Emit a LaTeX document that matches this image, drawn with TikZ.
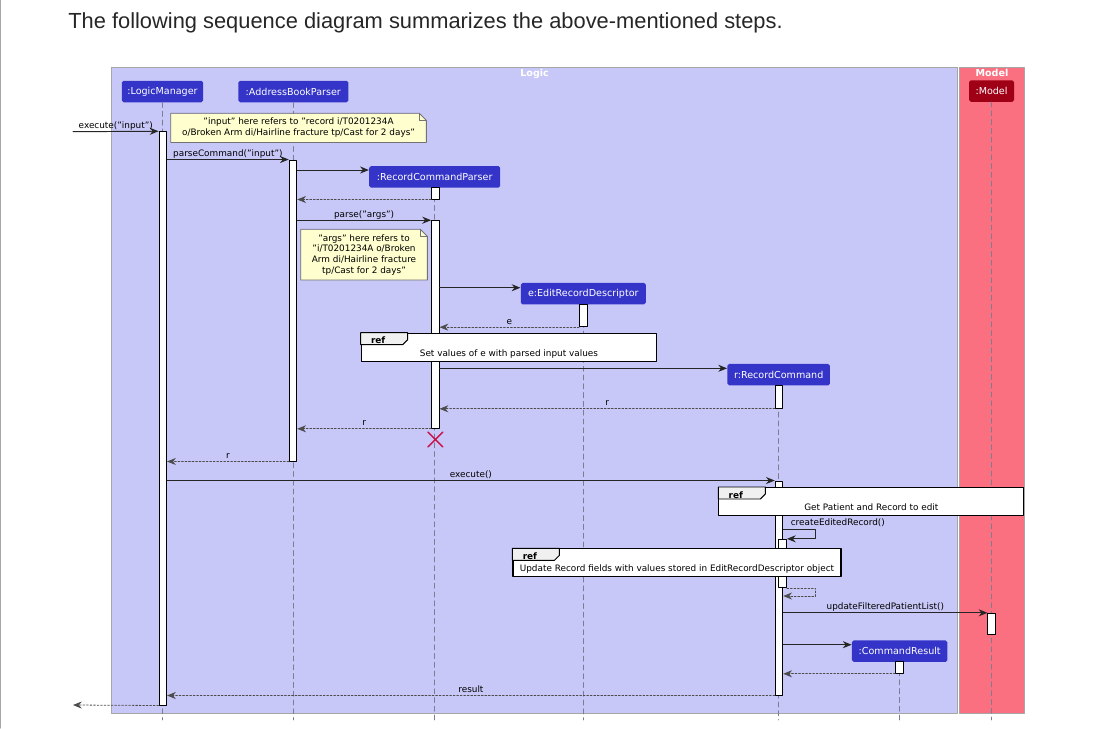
\documentclass[tikz,border=0pt]{standalone}
\usepackage{fontspec}
\setmainfont{DejaVu Sans}
\newfontfamily\titlefont{Liberation Sans}
\usetikzlibrary{arrows.meta, positioning, shapes.misc}
\definecolor{logic_bg}{RGB}{200,200,248}
\definecolor{model_bg}{RGB}{250,112,128}
\definecolor{part_blue}{RGB}{52,52,200}
\definecolor{model_red}{RGB}{160,0,22}
\definecolor{note_yellow}{RGB}{254,254,206}
\definecolor{life_gray}{RGB}{125,125,145}
\definecolor{destroy_red}{RGB}{200,16,72}
\newcommand\msgfont{\fontsize{5.05pt}{6.1pt}\selectfont}
\newcommand\partfont{\fontsize{5.45pt}{6.5pt}\selectfont}
\tikzset{
  grpbox/.style={draw=gray!70, line width=0.5pt, inner sep=0pt, minimum height=12.924cm},
  grplbl/.style={text=white, font=\partfont\bfseries, inner sep=0pt},
  part/.style={rectangle, rounded corners=1pt, fill=part_blue, text=white, font=\partfont, inner sep=0pt, minimum height=0.43cm},
  actbar/.style={rectangle, draw=black, fill=white, line width=0.55pt, inner sep=0pt, minimum width=0.15cm},
  life/.style={draw=life_gray, line width=0.5pt, dash pattern=on 2.8pt off 2.2pt},
  msg/.style={-{Stealth[length=5pt,width=4pt,inset=1.6pt]}, line width=0.55pt, draw=black!85},
  ret/.style={msg, dash pattern=on 1pt off 1pt, line width=0.45pt, draw=black!70},
  lbl/.style={midway, anchor=base, yshift=1.7pt, font=\msgfont, inner sep=0pt},
  notebox/.style={fill=note_yellow, inner sep=0pt, align=center, font=\msgfont},
  notedge/.style={draw=black!55, line width=0.45pt},
  refbox/.style={fill=white, draw=black, line width=0.65pt, inner sep=0pt},
  reftab/.style={fill=gray!12, draw=black, line width=0.55pt},
  reflbl/.style={font=\msgfont\bfseries, inner sep=0pt},
  reftxt/.style={font=\msgfont, inner sep=0pt},
  destroyx/.style={cross out, draw=destroy_red, line width=0.8pt, minimum size=0.27cm, inner sep=0pt}
}

\begin{document}
\begin{tikzpicture}[x=0.02cm, y=-0.02cm, line join=round, line cap=round]
	\useasboundingbox (0,0) rectangle (1095,728);
	\draw[black!35, line width=0.8pt] (0.6,0) -- (0.6,728);
	\node[anchor=base west, inner sep=0pt, text=black!85, font=\titlefont\fontsize{12.44pt}{14pt}\selectfont] (title) at (68,28) {The following sequence diagram summarizes the above-mentioned steps.};

	% boxes
	\node[grpbox, fill=logic_bg, minimum width=16.93cm, anchor=north west] (logic) at (111,66.5) {};
	\node[grpbox, fill=model_bg, minimum width=1.3cm, anchor=north west] (model) at (959,66.5) {};
	\node[grplbl, below=1.3pt of logic.north] (logiclbl) {Logic};
	\node[grplbl, below=1.3pt of model.north] (modellbl) {Model};

	% participants
	\node[part, minimum width=1.63cm] (lmbox) at (162.5,91.5) {:LogicManager};
	\node[part, minimum width=2.2cm] (abpbox) at (293.3,91.5) {:AddressBookParser};
	\node[part, minimum width=2.62cm] (rcpbox) at (434.7,176.9) {:RecordCommandParser};
	\node[part, minimum width=2.5cm] (erdbox) at (583.3,293.7) {e:EditRecordDescriptor};
	\node[part, minimum width=2.05cm] (rcbox) at (778.7,374.7) {r:RecordCommand};
	\node[part, minimum width=1.91cm] (crbox) at (899.7,651.2) {:CommandResult};
	\node[part, fill=model_red, minimum width=0.9cm] (mdlbox) at (991.5,91) {:Model};
	\foreach \p in {lmbox, abpbox, rcpbox, erdbox, rcbox, crbox, mdlbox}
		\draw[life] (\p.south) -- (\p.south |- 0,720);

	% notes
	\node[notebox, minimum width=5.1cm, minimum height=0.568cm, anchor=north west] (note1) at (170.7,113.3)
		{"input" here refers to "record i/T0201234A\\o/Broken Arm di/Hairline fracture tp/Cast for 2 days"};
	\node[notebox, minimum width=2.52cm, minimum height=1cm, anchor=north west] (note2) at (300.7,229.3)
		{"args" here refers to\\"i/T0201234A o/Broken\\Arm di/Hairline fracture\\tp/Cast for 2 days"};
	\foreach \n in {note1, note2}
	{
		\fill[logic_bg] (\n.north east) -- ([xshift=-4pt]\n.north east) -- ([yshift=-4pt]\n.north east) -- cycle;
		\draw[notedge] (\n.north west) -- ([xshift=-4pt]\n.north east) -- ([yshift=-4pt]\n.north east) -- (\n.south east) -- (\n.south west) -- cycle;
		\draw[notedge] ([xshift=-4pt]\n.north east) |- ([yshift=-4pt]\n.north east);
	}

	% activations
	\foreach \n/\x/\ya/\yb in {lm/162.8/131.7/705, abp/293/160/461, rcpa/435.3/187.7/199, rcpb/435.3/220.7/428.3,
		erd/583.3/304.3/326.7, rca/779/385/408.3, rcb/779/481/695, rcc/782.7/539.3/587.7,
		mdl/991.7/613.3/634.3, cr/899.5/661.7/673.3}
		\node[actbar, minimum height={(\yb-\ya)*0.02cm}] (\n) at (\x,{(\ya+\yb)/2}) {};

	% messages
	\coordinate (in) at (73,131.7);
	\coordinate (out) at (73,705);
	\draw[msg] (in) -- (lm.north west) node[lbl] (m1) {execute("input")};
	\draw[msg] (lm.east |- abp.north) -- (abp.north west) node[lbl] (m2) {parseCommand("input")};
	\draw[msg] (abp.east |- 0,170) -- (rcpbox.west |- 0,170);
	\draw[ret] (rcpa.south west) -- (abp.east |- rcpa.south);
	\draw[msg] (abp.east |- rcpb.north) -- (rcpb.north west) node[lbl] (m3) {parse("args")};
	\draw[msg] (rcpb.east |- 0,287.7) -- (erdbox.west |- 0,287.7);
	\draw[ret] (erd.south west) -- (rcpb.east |- erd.south) node[lbl] (m4) {e};
	\draw[msg] (rcpb.east |- 0,368.3) -- (rcbox.west |- 0,368.3);
	\draw[ret] (rca.south west) -- (rcpb.east |- rca.south) node[lbl] (m5) {r};
	\draw[ret] (rcpb.south west) -- (abp.east |- rcpb.south) node[lbl] (m6) {r};
	\node[destroyx] (rcpx) at (435.3,439.5) {};
	\draw[ret] (abp.south west) -- (lm.east |- abp.south) node[lbl] (m7) {r};
	\draw[msg] (lm.east |- rcb.north) -- (rcb.north west) node[lbl] (m8) {execute()};
	\coordinate (self) at (815.7,529.3);
	\draw[msg] (rcb.east |- self) -- (self) -- (self |- rcc.north) -- (rcc.north east);
	\node[font=\msgfont, anchor=base west, inner sep=0pt] (m9) at (790.5,525.3) {createEditedRecord()};
	\coordinate (selfret) at (815.7,596);
	\draw[ret] (rcc.south east) -- (rcc.south east -| selfret) -- (selfret) -- (rcb.east |- selfret);
	\draw[msg] (rcb.east |- mdl.north) -- (mdl.north west) node[lbl] (m10) {updateFilteredPatientList()};
	\draw[msg] (rcb.east |- 0,644.7) -- (crbox.west |- 0,644.7);
	\draw[ret] (cr.south west) -- (rcb.east |- cr.south);
	\draw[ret] (rcb.south west) -- (lm.east |- rcb.south) node[lbl] (m11) {result};
	\draw[ret] (lm.south west) -- (out);

	% ref frames
	\foreach \n/\xa/\ya/\xb/\yb/\t in {refa/360.7/332.7/656/360.7/Set values of e with parsed input values,
		refb/718.3/487/1023.3/515/Get Patient and Record to edit,
		refc/512.4/548.3/840.4/576/Update Record fields with values stored in EditRecordDescriptor object}
	{
		\node[refbox, minimum width={(\xb-\xa)*0.02cm}, minimum height={(\yb-\ya)*0.02cm}, anchor=north west] (\n) at (\xa,\ya) {};
		\draw[reftab] (\n.north west) -- ++(47,0) -- ++(0,7) -- ++(-5,5) -- ++(-42,0) -- cycle;
		\node[reflbl, anchor=base west] (\n-lbl) at ([xshift=5.7pt,yshift=-6.3pt]\n.north west) {ref};
		\node[reftxt, anchor=base] (\n-txt) at ([yshift=3.1pt]\n.south) {\t};
	}
\end{tikzpicture}
\end{document}
